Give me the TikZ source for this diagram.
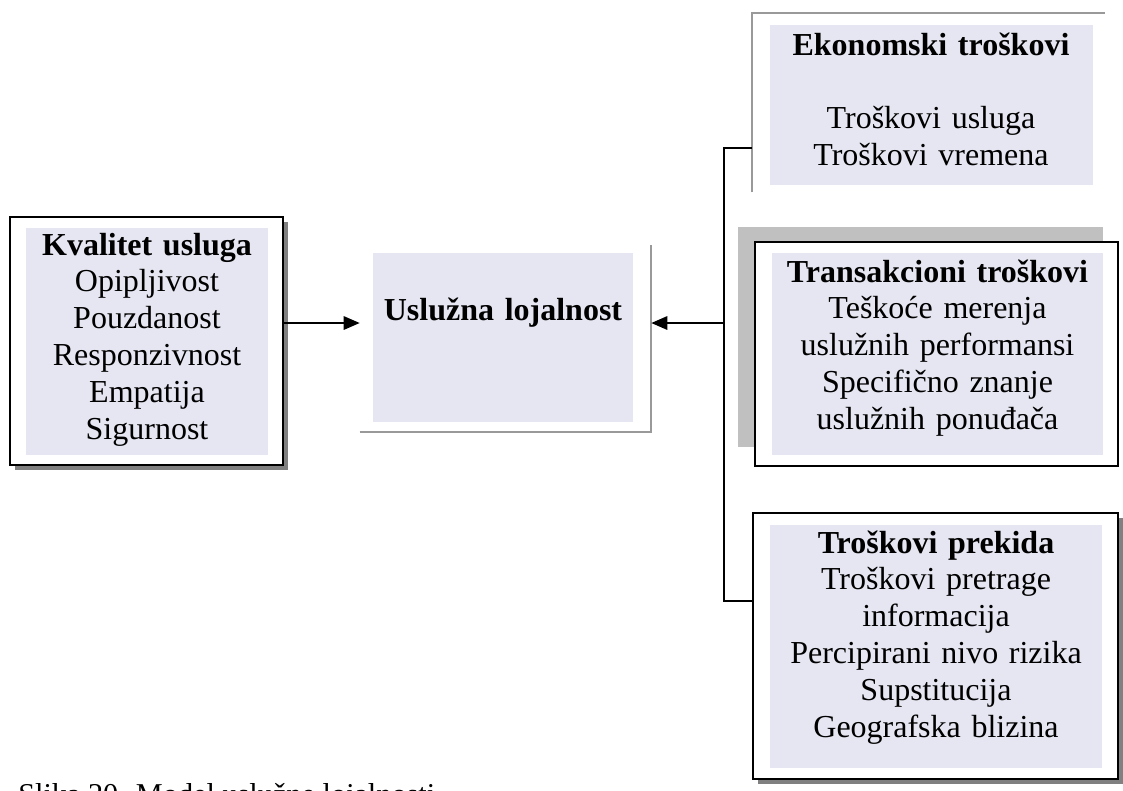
\documentclass[tikz,border=0pt]{standalone}
\usepackage{fontspec}
\setmainfont{Liberation Serif}
\usetikzlibrary{arrows.meta,fit}
\definecolor{boxfill}{RGB}{230,230,242}
\definecolor{shadowdark}{RGB}{128,128,128}
\definecolor{shadowlight}{RGB}{192,192,192}
\definecolor{edgegray}{RGB}{153,153,153}

\begin{document}
\begin{tikzpicture}[x=0.75pt,y=-0.75pt,
  frame/.style={draw=black,line width=1.5pt,fill=white,inner sep=0pt},
  hull/.style={inner sep=0pt},
  txt/.style={font=\fontsize{24pt}{27.6pt}\selectfont,align=center,inner sep=0pt,anchor=base},
  conn/.style={draw=black,line width=1.5pt},
  arrowed/.style={conn,-{Triangle[length=12pt,width=10pt]}},
  edge/.style={draw=edgegray,line width=1.6pt},
]
\useasboundingbox (0,0) rectangle (1123,790);

% --- Kvalitet usluga (left box with drop shadow)
\fill[shadowdark] (15,222) rectangle (288,470);
\node[frame,fit={(10,217)(283,465)}] (kv) {};
\fill[boxfill] (26,228) rectangle (268,455);
\node[txt,text width=181pt] (kvtxt) at (147,255)
  {\textbf{Kvalitet usluga}\\Opipljivost\\Pouzdanost\\Responzivnost\\Empatija\\Sigurnost};

% --- Usluzna lojalnost (centre box, grey edge only)
\node[hull,fit={(360,245)(651,432)}] (loy) {};
\fill[boxfill] (373,253) rectangle (633,422);
\draw[edge] (loy.south west) -- (loy.south east) -- (loy.north east);
\node[txt,text width=195pt] (loytxt) at (503,320) {\textbf{Uslužna lojalnost}};

% --- Ekonomski troskovi (top right, grey edge only)
\node[hull,fit={(752,13)(1105,192)}] (ek) {};
\fill[boxfill] (770,25) rectangle (1093,185);
\draw[edge] (ek.south west) -- (ek.north west) -- (ek.north east);
\node[txt,text width=242pt] (ektxt) at (931,55)
  {\textbf{Ekonomski troškovi}\\[27.6pt]Troškovi usluga\\Troškovi vremena};

% --- Transakcioni troskovi (light shadow up-left)
\fill[shadowlight] (738,227) rectangle (1103,447);
\node[frame,fit={(755,242)(1118,466)}] (tr) {};
\fill[boxfill] (772,253) rectangle (1103,455);
\node[txt,text width=248pt] (trtxt) at (937.5,282)
  {\textbf{Transakcioni troškovi}\\Teškoće merenja\\uslužnih performansi\\Specifično znanje\\uslužnih ponuđača};

% --- Troskovi prekida (bottom right, drop shadow)
\fill[shadowdark] (758,518) rectangle (1123,784);
\node[frame,fit={(753,513)(1118,779)}] (tp) {};
\fill[boxfill] (770,525) rectangle (1102,768);
\node[txt,text width=249pt] (tptxt) at (936,553)
  {\textbf{Troškovi prekida}\\Troškovi pretrage\\informacija\\Percipirani nivo rizika\\Supstitucija\\Geografska blizina};

% --- connectors
\coordinate (mid) at (700,323);
\coordinate (spinetop) at (724,148);
\coordinate (spinebot) at (724,601);
\draw[conn] (ek.west |- spinetop) -- (spinetop) -- (spinebot) -- (tp.west |- spinebot);
\draw[arrowed] (spinetop |- mid) -- (loy.east |- mid);
\draw[arrowed] (kv.east |- mid) -- (loy.west |- mid);

% --- caption (runs past the lower edge)
\begin{scope}
  \clip (0,0) rectangle (1123,790);
  \node[font=\fontsize{22.7pt}{26pt}\selectfont,inner sep=0pt,anchor=base west] (cap) at (18,804)
    {Slika 20. Model uslužne lojalnosti};
\end{scope}
\end{tikzpicture}
\end{document}
